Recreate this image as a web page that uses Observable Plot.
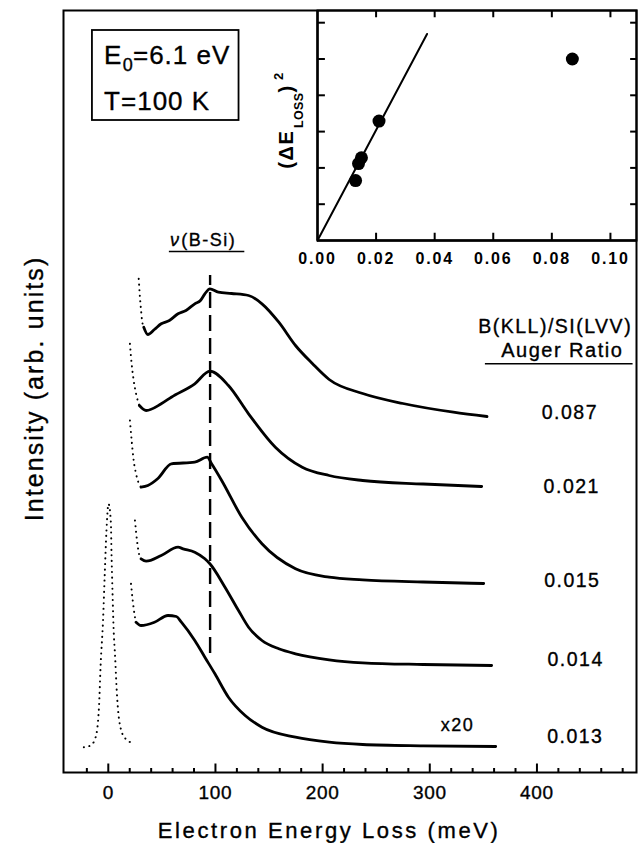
<!DOCTYPE html>
<html><head><meta charset="utf-8">
<script src="https://cdn.jsdelivr.net/npm/d3@7"></script>
<script src="https://cdn.jsdelivr.net/npm/@observablehq/plot@0.6"></script>
<style>
body{margin:0;background:#fff;}
#wrap{position:relative;width:639px;height:843px;overflow:hidden;}
#wrap svg{position:absolute;top:0;overflow:visible;}
</style></head><body><div id="wrap"></div>
<script>
// ---------- main panel data: [energy loss (meV), intensity (arb. units, stacked)] ----------
const majorTicks = [0, 100, 200, 300, 400];
const minorTicks = [-20, 20, 40, 60, 80, 120, 140, 160, 180, 220, 240, 260, 280, 320, 340, 360, 380, 420, 440, 460, 480];

const elastic = [[-22.8,2.53],[-16.5,2.7],[-11.8,3.53],[-8.7,6.53],[-7.1,10.87],[-4.9,15.2],[-3.3,19.87],[-1.7,24.2],[0.2,26.87],[2.4,25.03],[3.0,21.9],[3.9,18.2],[4.9,14.53],[6.4,11.53],[7.7,8.53],[10.2,5.2],[14.9,3.53],[24.3,2.87]];

const s013Dots = [[21.2,18.87],[22.8,17.2],[24.9,15.53],[25.9,15.03]];
const s013 = [[25.9,15.03],[30.6,14.7],[43.1,15.03],[55.7,15.7],[63.5,15.6],[68.2,15.03],[80.7,13.2],[90.1,11.53],[99.5,9.87],[112.1,7.53],[127.7,5.7],[143.4,4.53],[174.7,3.53],[206.1,3.03],[237.4,2.8],[293.8,2.67],[361.5,2.6]];

const s014Dots = [[24.9,25.2],[26.8,23.2],[29.0,21.7],[30.6,21.37]];
const s014 = [[30.6,21.37],[35.3,21.13],[49.4,21.7],[65.1,22.53],[69.8,22.37],[80.7,22.03],[90.1,21.37],[94.8,20.87],[108.9,18.53],[121.5,16.2],[130.9,14.53],[143.4,13.2],[159.1,12.37],[174.7,11.87],[206.1,11.27],[237.4,10.97],[293.8,10.8],[357.7,10.7]];

const s015Dots = [[20.2,35.2],[21.8,33.2],[23.7,31.2],[25.9,29.87],[27.5,29.2],[30.6,28.53]];
const s015 = [[30.6,28.53],[36.9,28.7],[46.3,29.4],[58.8,30.87],[80.7,31.03],[92.3,31.53],[96.4,30.87],[105.8,29.2],[124.6,25.53],[143.4,22.87],[174.7,20.37],[206.1,19.53],[237.4,19.27],[293.8,19.05],[350.3,18.9]];

const s021Dots = [[20.2,42.87],[21.8,40.87],[23.7,39.2],[25.9,37.87],[29.0,36.7]];
const s021 = [[29.0,36.7],[35.3,36.2],[49.4,36.87],[58.8,37.53],[80.7,38.87],[94.8,40.13],[112.1,38.7],[130.9,35.87],[155.9,32.53],[181.0,30.53],[206.1,29.7],[237.4,29.2],[293.8,28.85],[348.4,28.6]];

const s087Dots = [[28.4,49.37],[29.3,47.87],[30.6,46.2],[31.5,45.2],[33.1,44.53]];
const s087 = [[33.1,44.53],[36.9,43.8],[43.0,44.3],[49.4,44.87],[57.0,45.2],[65.1,45.87],[72.5,46.2],[80.7,46.87],[86.0,47.2],[90.1,47.87],[94.8,48.37],[102.7,48.03],[115.0,47.9],[130.9,47.7],[143.4,46.87],[159.1,45.03],[174.7,42.7],[190.4,40.9],[206.1,39.3],[237.4,37.9],[275.0,36.9],[322.0,36.03],[353.4,35.6]];

// B-Si mode marker (meV) and its vertical extent
const bSiMode = [95];
const bSiExtent = [11.9, 49.7];

// Auger ratio labels at the right of each spectrum
const augerLabels = ["0.087", "0.021", "0.015", "0.014", "0.013"];
const labelY = [35.4, 27.93, 18.53, 10.7, 2.93];
const labelX = [430.7, 432.5, 433.0, 436.1, 435.8];

// ---------- inset data ----------
const augerRatio = [0.087, 0.021, 0.015, 0.014, 0.013];
const dELossSq = [5.0, 3.29, 2.28, 2.12, 1.65];
const fitLine = [[0, 0], [0.0374, 5.69]];
const insetXTicks = [0.00, 0.02, 0.04, 0.06, 0.08, 0.10];
const insetYTicks = [1, 2, 3, 4, 5, 6];

const XD = [-41.8, 492.9], YD = [0, 76.2];
const font = "'Liberation Sans', Arial, Helvetica, sans-serif";
const P = {x: d => d[0], y: d => d[1]};
const T = {stroke: "black", strokeWidth: 0.35, fill: "black", lineAnchor: "bottom"};

const spectra = [s087, s021, s015, s014, s013];
const dotted = [elastic, s087Dots, s021Dots, s015Dots, s014Dots, s013Dots];

const main = Plot.plot({
  width: 639, height: 843,
  marginLeft: 63, marginRight: 3, marginTop: 10, marginBottom: 71,
  x: {domain: XD, axis: null},
  y: {domain: YD, axis: null},
  style: {fontFamily: font, color: "black", background: "white", letterSpacing: "1.5px"},
  marks: [
    Plot.ruleX(minorTicks, {y1: 0, y2: 0.4, strokeWidth: 2}),
    Plot.ruleX(majorTicks, {y1: 0, y2: 0.85, strokeWidth: 2}),
    ...dotted.map(a => Plot.line(a, {...P, curve: "monotone-x", strokeWidth: 2, strokeLinecap: "round", strokeDasharray: "0.1 5.5"})),
    ...spectra.map(a => Plot.line(a, {...P, curve: "monotone-x", strokeWidth: 2.8, strokeLinejoin: "round"})),
    Plot.ruleX(bSiMode, {y1: bSiExtent[0], y2: bSiExtent[1], strokeWidth: 2.4, strokeDasharray: "16 7"}),
    // tick labels
    Plot.text(majorTicks, {...T, x: d => d, y: -2.6, text: d => String(d), fontSize: 19}),
    Plot.text(["Electron Energy Loss (meV)"], {...T, x: 206.1, y: -6.5, fontSize: 22}),
    Plot.text(["Intensity (arb. units)"], {...T, x: -60.6, y: 38.4, rotate: -90, fontSize: 25}),
    // condition box
    Plot.rect([0], {x1: -14.8, x2: 122.0, y1: 65.2, y2: 74.2, fill: "white", stroke: "black", strokeWidth: 1.8}),
    Plot.text(["E"], {...T, x: -3.9, y: 70.87, fontSize: 26, textAnchor: "start"}),
    Plot.text(["0"], {...T, x: 13.4, y: 70.2, fontSize: 18, textAnchor: "start"}),
    Plot.text(["=6.1 eV"], {...T, x: 23.0, y: 70.87, fontSize: 26, textAnchor: "start"}),
    Plot.text(["T=100 K"], {...T, x: -3.9, y: 66.27, fontSize: 26, textAnchor: "start"}),
    // mode label
    Plot.text(["\u03bd"], {...T, x: 57.5, y: 52.7, fontSize: 18, fontStyle: "italic", textAnchor: "start"}),
    Plot.text(["(B-Si)"], {...T, x: 68.0, y: 52.7, fontSize: 18, textAnchor: "start"}),
    Plot.ruleY([52.1], {x1: 57.0, x2: 127.4, strokeWidth: 1.6}),
    // right-hand labels
    Plot.text(["B(KLL)/SI(LVV)"], {...T, x: 417, y: 44.0, fontSize: 19.5}),
    Plot.text(["Auger Ratio"], {...T, x: 423.6, y: 41.53, fontSize: 20}),
    Plot.ruleY([40.87], {x1: 351.9, x2: 489.7, strokeWidth: 1.6}),
    Plot.text(augerLabels, {...T, x: (d, i) => labelX[i], y: (d, i) => labelY[i], fontSize: 19.5}),
    Plot.text(["x20"], {...T, x: 325.8, y: 4.2, fontSize: 18}),
    Plot.frame({strokeWidth: 2})
  ]
});
main.style.left = "0px";

const IX = [0, 0.1089], IY = [0, 6.336];
const TB = {fill: "black", fontWeight: "bold", lineAnchor: "bottom"};
const inset = Plot.plot({
  width: 379, height: 275,
  marginLeft: 57, marginRight: 3, marginTop: 10, marginBottom: 35,
  x: {domain: IX, axis: null},
  y: {domain: IY, axis: null},
  style: {fontFamily: font, color: "black", background: "transparent", letterSpacing: "1.8px"},
  marks: [
    Plot.ruleX(insetXTicks.slice(1), {y1: 0, y2: 0.2, strokeWidth: 2}),
    Plot.ruleX(insetXTicks.slice(1), {y1: IY[1] - 0.2, y2: IY[1], strokeWidth: 2}),
    Plot.ruleY(insetYTicks, {x1: 0, x2: 0.0027, strokeWidth: 2}),
    Plot.ruleY(insetYTicks, {x1: IX[1] - 0.002, x2: IX[1], strokeWidth: 2}),
    Plot.line(fitLine, {...P, strokeWidth: 2}),
    Plot.dot(augerRatio.map((a, i) => [a, dELossSq[i]]), {...P, r: 6.5, fill: "black", stroke: "none"}),
    Plot.text(insetXTicks, {...TB, x: d => d, y: -0.642, text: d => d.toFixed(2), fontSize: 16}),
    // (ΔE_LOSS)^2 rotated label
    Plot.text(["(\u0394E"], {...TB, x: -0.0082, y: 1.98, rotate: -90, fontSize: 20, textAnchor: "start"}),
    Plot.text(["LOSS"], {...TB, x: -0.0050, y: 3.1, rotate: -90, fontSize: 12.5, textAnchor: "start"}),
    Plot.text([")"], {...TB, x: -0.0082, y: 4.08, rotate: -90, fontSize: 20, textAnchor: "start"}),
    Plot.text(["2"], {...TB, x: -0.0118, y: 4.42, rotate: -90, fontSize: 13, textAnchor: "start"}),
    Plot.ruleX([0], {strokeWidth: 2.4}),
    Plot.ruleY([0], {strokeWidth: 2.4}),
    Plot.frame({strokeWidth: 2})
  ]
});
inset.style.left = "260px";

const spacing = {"Electron Energy Loss (meV)": 2.6, "Intensity (arb. units)": 2.1, "0": 0.7, "100": 0.7, "200": 0.7, "300": 0.7, "400": 0.7, "T=100 K": 1, "=6.1 eV": 1, "E": 1, "(B-Si)": 1.5, "LOSS": 0.3, "(\u0394E": 1.5};
[main, inset].forEach(svg => svg.querySelectorAll("text").forEach(t => {
  const s = spacing[t.textContent];
  if (s != null) t.style.letterSpacing = s + "px";
}));

const wrap = document.getElementById("wrap");
wrap.appendChild(main);
wrap.appendChild(inset);
</script></body></html>
